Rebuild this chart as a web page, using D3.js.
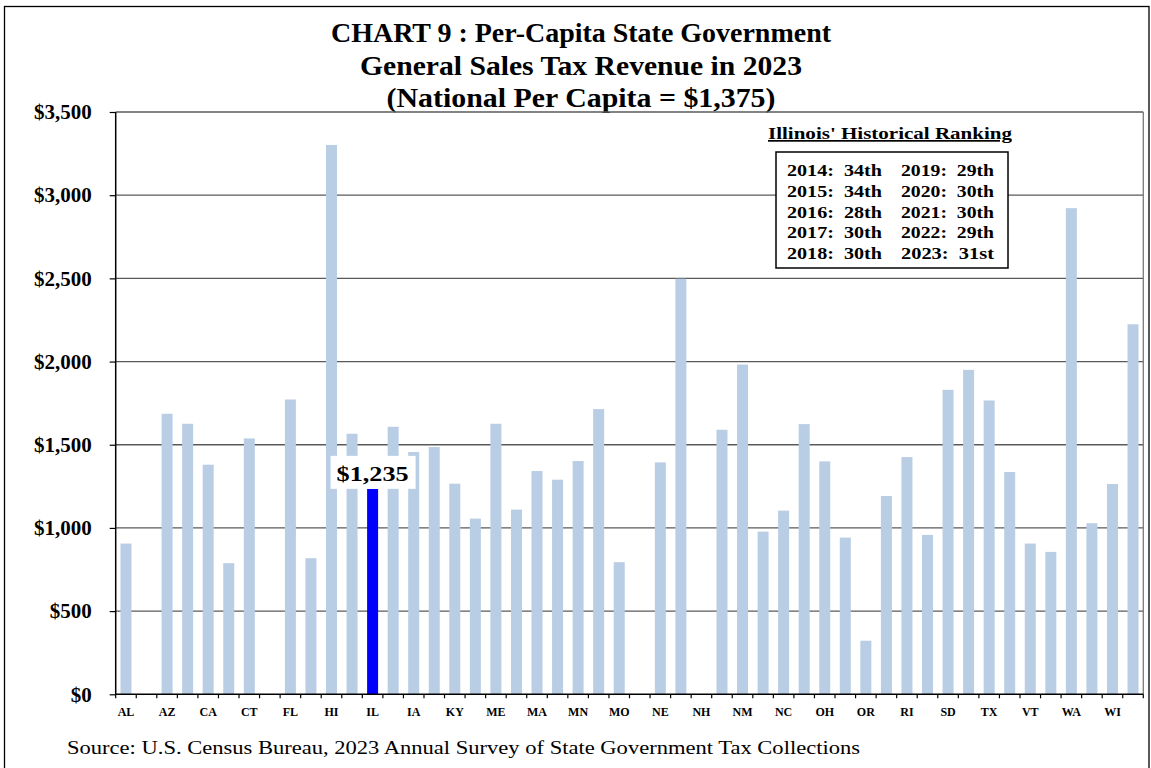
<!DOCTYPE html>
<html>
<head>
<meta charset="utf-8">
<script src="https://cdn.jsdelivr.net/npm/d3@7"></script>
<style>
  body { margin: 0; background: #fff; }
  svg { display: block; }
  text { font-family: "Liberation Serif", "DejaVu Serif", serif; }
</style>
</head>
<body>
<svg id="chart" width="1151" height="768"></svg>
<script>
// datos del grafico
const states = ["AL","AK","AZ","AR","CA","CO","CT","DE","FL","GA","HI","ID","IL","IN","IA","KS","KY","LA","ME","MD",
  "MA","MI","MN","MS","MO","MT","NE","NV","NH","NJ","NM","NY","NC","ND","OH","OK","OR","PA","RI","SC",
  "SD","TN","TX","UT","VT","VA","WA","WV","WI","WY"];
const perCapita = [906,0,1686,1626,1380,788,1538,0,1772,818,3302,1566,1235,1608,1456,1486,1266,1056,1626,1110,
  1342,1290,1402,1714,794,0,1394,2498,0,1590,1982,978,1104,1624,1400,942,322,1192,1426,958,
  1830,1950,1766,1336,906,856,2922,1028,1264,2224];
const yTicks = [0,500,1000,1500,2000,2500,3000,3500];
const titleLines = ["CHART 9 : Per-Capita State Government", "General Sales Tax Revenue in 2023", "(National Per Capita = $1,375)"];
const rankLeft = ["2014:  34th","2015:  34th","2016:  28th","2017:  30th","2018:  30th"];
const rankRight = ["2019:  29th","2020:  30th","2021:  30th","2022:  29th","2023:  31st"];
const highlight = "IL";

const svg = d3.select("#chart");
const plotLeft = 115.7, plotRight = 1143.3, plotTop = 112, plotBottom = 694.3;

const x = d3.scaleBand().domain(states).range([plotLeft, plotRight]).paddingInner(0.465).paddingOuter(0.2325);
const y = d3.scaleLinear().domain([0, 3500]).range([plotBottom, plotTop]);

// marco exterior
svg.append("rect").attr("x", 4.5).attr("y", 6.5).attr("width", 1144.5).attr("height", 800)
  .attr("fill", "none").attr("stroke", "#000").attr("stroke-width", 1.3);

// titulo
svg.selectAll(".title").data(titleLines).enter().append("text")
  .attr("class", "title")
  .attr("x", 581).attr("y", (d, i) => 42 + i * 32.5)
  .attr("text-anchor", "middle")
  .style("font-size", "27px").style("font-weight", "bold")
  .attr("textLength", (d, i) => [500, 442, 389][i])
  .attr("lengthAdjust", "spacingAndGlyphs")
  .text(d => d);

// lineas de cuadricula
svg.append("g").selectAll("line").data(yTicks.filter(d => d > 0)).enter().append("line")
  .attr("x1", plotLeft).attr("x2", plotRight)
  .attr("y1", d => y(d)).attr("y2", d => y(d))
  .style("stroke", "#5a5a5a").style("stroke-width", 1.3);
svg.append("line").attr("x1", plotRight).attr("x2", plotRight).attr("y1", plotTop).attr("y2", plotBottom)
  .style("stroke", "#7a7a7a").style("stroke-width", 1.3);

// barras
svg.append("g").selectAll("rect").data(states).enter().append("rect")
  .attr("x", d => x(d))
  .attr("width", x.bandwidth())
  .attr("y", (d, i) => y(perCapita[i]))
  .attr("height", (d, i) => plotBottom - y(perCapita[i]))
  .attr("fill", d => d === highlight ? "#0000ff" : "#b9cde5");

// eje Y
const yAxis = svg.append("g").attr("transform", `translate(${plotLeft},0)`)
  .call(d3.axisLeft(y).tickValues(yTicks).tickSize(6).tickPadding(18).tickFormat(d => "$" + d3.format(",")(d)));
yAxis.select(".domain").attr("d", `M0,${plotTop}V${plotBottom}`).style("stroke", "#000").style("stroke-width", 1.5);
yAxis.selectAll(".tick line").style("stroke", "#000").style("stroke-width", 1.2);
yAxis.selectAll(".tick text").style("font-size", "20px").style("font-weight", "bold")
  .style("font-family", "'Liberation Serif', serif").attr("fill", "#000").attr("dy", "0.34em")
  .each(function () {
    // ensanchar un poco para imitar la fuente original
    const w = this.getComputedTextLength();
    d3.select(this).attr("textLength", w * 1.05).attr("lengthAdjust", "spacingAndGlyphs");
  });

// eje X
const xAxis = svg.append("g").attr("transform", `translate(0,${plotBottom})`);
xAxis.append("line").attr("x1", plotLeft).attr("x2", plotRight).style("stroke", "#000").style("stroke-width", 1.5);
xAxis.selectAll(".xt").data(states.concat(["_end"])).enter().append("line")
  .attr("x1", (d, i) => i < states.length ? x(d) - x.step() * x.paddingOuter() : plotRight)
  .attr("x2", (d, i) => i < states.length ? x(d) - x.step() * x.paddingOuter() : plotRight)
  .attr("y1", 0).attr("y2", 4)
  .style("stroke", "#000").style("stroke-width", 1.2);
xAxis.selectAll(".xl").data(states.filter((d, i) => i % 2 === 0)).enter().append("text")
  .attr("x", d => x(d) + x.bandwidth() / 2).attr("y", 22)
  .attr("text-anchor", "middle")
  .style("font-size", "12px").style("font-weight", "bold")
  .text(d => d);

// etiqueta de Illinois
const ilIdx = states.indexOf(highlight);
const ilX = x(highlight) + x.bandwidth() / 2;
svg.append("rect").attr("x", ilX - 42).attr("y", y(perCapita[ilIdx]) - 33)
  .attr("width", 85).attr("height", 33).attr("fill", "#fff");
svg.append("text").attr("x", ilX).attr("y", y(perCapita[ilIdx]) - 8)
  .attr("text-anchor", "middle")
  .style("font-size", "22px").style("font-weight", "bold")
  .attr("textLength", 72).attr("lengthAdjust", "spacingAndGlyphs")
  .text("$" + d3.format(",")(perCapita[ilIdx]));

// recuadro de ranking historico
svg.append("text").attr("x", 890).attr("y", 139).attr("text-anchor", "middle")
  .style("font-size", "17px").style("font-weight", "bold").style("text-decoration", "underline")
  .attr("textLength", 244).attr("lengthAdjust", "spacingAndGlyphs")
  .text("Illinois' Historical Ranking");
svg.append("rect").attr("x", 776).attr("y", 152).attr("width", 232).attr("height", 116)
  .attr("fill", "#fff").attr("stroke", "#000").attr("stroke-width", 1.5);
svg.selectAll(".rl").data(rankLeft).enter().append("text")
  .attr("x", 787).attr("y", (d, i) => 176 + i * 20.8)
  .style("font-size", "16px").style("font-weight", "bold").style("white-space", "pre")
  .attr("textLength", 95).attr("lengthAdjust", "spacingAndGlyphs")
  .text(d => d);
svg.selectAll(".rr").data(rankRight).enter().append("text")
  .attr("x", 901).attr("y", (d, i) => 176 + i * 20.8)
  .style("font-size", "16px").style("font-weight", "bold").style("white-space", "pre")
  .attr("textLength", 93).attr("lengthAdjust", "spacingAndGlyphs")
  .text(d => d);

// fuente
svg.append("text").attr("x", 67).attr("y", 754)
  .style("font-size", "19px")
  .attr("textLength", 793).attr("lengthAdjust", "spacingAndGlyphs")
  .text("Source: U.S. Census Bureau, 2023 Annual Survey of State Government Tax Collections");
</script>
</body>
</html>
